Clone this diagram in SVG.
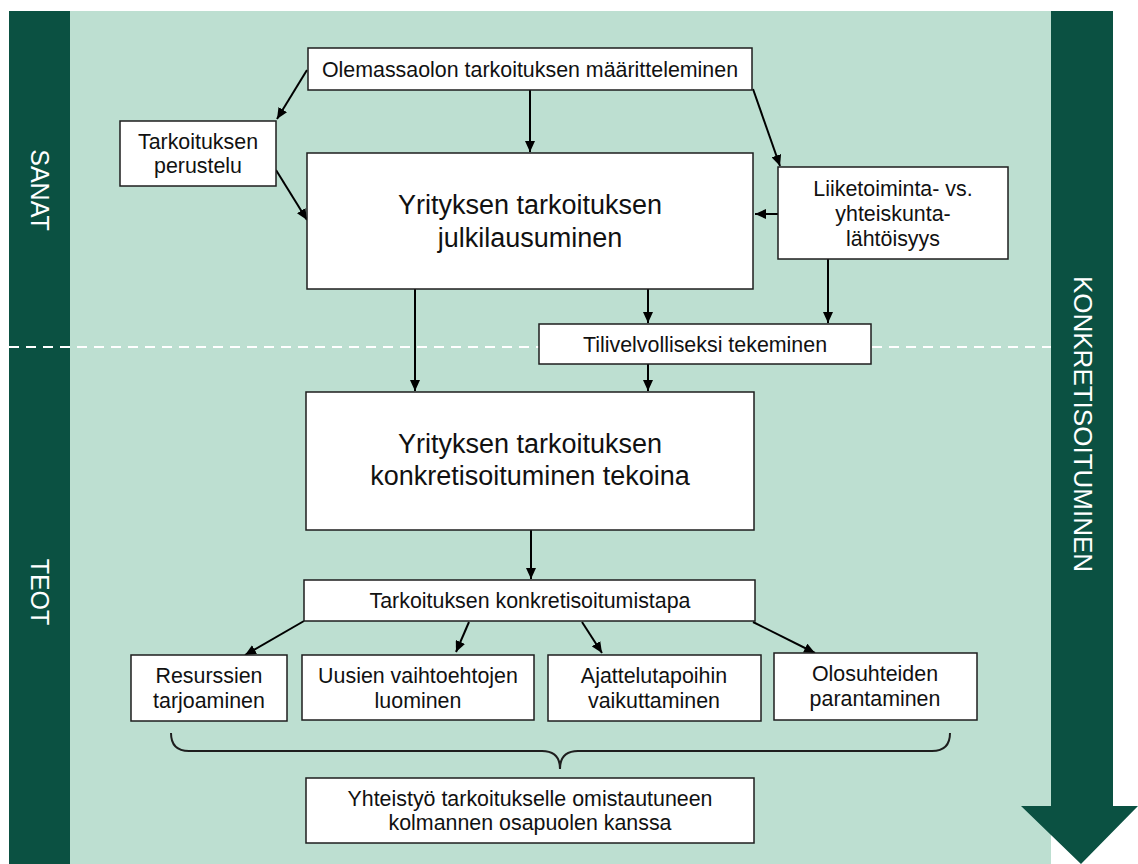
<svg xmlns="http://www.w3.org/2000/svg" width="1138" height="864" viewBox="0 0 1138 864">
<style>
.box{fill:#fff;stroke:#1e1e1e;stroke-width:1.5}
.t{font-family:"Liberation Sans",Arial,sans-serif;font-size:21.4px;fill:#111;text-anchor:middle}
.tl{font-family:"Liberation Sans",Arial,sans-serif;font-size:27px;fill:#111;text-anchor:middle}
.side{font-family:"Liberation Sans",Arial,sans-serif;font-size:25px;fill:#fff;text-anchor:middle}
.c{stroke:#000;stroke-width:2;fill:none;marker-end:url(#ah)}
</style>
<defs>
<marker id="ah" markerWidth="11" markerHeight="10" refX="11" refY="5" orient="auto" markerUnits="userSpaceOnUse"><path d="M0,0 L11,5 L0,10 z" fill="#000"/></marker>
</defs>
<g id="background">
<rect x="9" y="11" width="1042" height="853" fill="#bddfd1"/>
<rect x="9" y="11" width="61" height="853" fill="#0b5142"/>
<polygon points="1051,11 1113,11 1113,806 1138,806 1081,864 1021,806 1051,806" fill="#0b5142"/>
<line x1="9" y1="347" x2="539" y2="347" stroke="#fff" stroke-width="2" stroke-dasharray="10 7"/>
<line x1="872" y1="347" x2="1051" y2="347" stroke="#fff" stroke-width="2" stroke-dasharray="10 7"/>
<text class="side" transform="translate(31,190) rotate(90)">SANAT</text>
<text class="side" transform="translate(31,592) rotate(90)">TEOT</text>
<text class="side" style="font-size:26px" transform="translate(1074,424) rotate(90)">KONKRETISOITUMINEN</text>
</g>
<g id="connectors">
<line class="c" x1="307" y1="70" x2="277" y2="119"/>
<line class="c" x1="276" y1="170" x2="307" y2="220"/>
<line class="c" x1="530" y1="90" x2="530" y2="152"/>
<line class="c" x1="753" y1="89" x2="780" y2="166"/>
<line class="c" x1="778" y1="214" x2="755" y2="214"/>
<line class="c" x1="828" y1="259" x2="828" y2="323"/>
<line class="c" x1="648" y1="289" x2="648" y2="323"/>
<line class="c" x1="415" y1="289" x2="415" y2="391"/>
<line class="c" x1="648" y1="364" x2="648" y2="391"/>
<line class="c" x1="531" y1="530" x2="531" y2="579"/>
<line class="c" x1="304" y1="621" x2="245" y2="655"/>
<line class="c" x1="469" y1="622" x2="456" y2="652"/>
<line class="c" x1="582" y1="622" x2="602" y2="653"/>
<line class="c" x1="753" y1="622" x2="815" y2="653"/>
<path d="M171,733 Q171,751 189,751 L542,751 Q560,751 560,769 Q560,751 578,751 L932,751 Q950,751 950,733" stroke="#1e1e1e" stroke-width="2" fill="none"/>
</g>
<g id="n1"><rect class="box" x="308" y="48" width="444" height="42"/><text class="t" x="530" y="77">Olemassaolon tarkoituksen määritteleminen</text></g>
<g id="n2"><rect class="box" x="120" y="121" width="156" height="65"/><text class="t" x="198" y="149">Tarkoituksen</text><text class="t" x="198" y="173">perustelu</text></g>
<g id="n3"><rect class="box" x="307" y="153" width="446" height="136"/><text class="tl" x="530" y="214">Yrityksen tarkoituksen</text><text class="tl" x="530" y="247">julkilausuminen</text></g>
<g id="n4"><rect class="box" x="778" y="167" width="230" height="92"/><text class="t" x="893" y="196">Liiketoiminta- vs.</text><text class="t" x="893" y="221">yhteiskunta-</text><text class="t" x="893" y="246">lähtöisyys</text></g>
<g id="n5"><rect class="box" x="539" y="324" width="332" height="40"/><text class="t" x="705" y="352">Tilivelvolliseksi tekeminen</text></g>
<g id="n6"><rect class="box" x="306" y="392" width="448" height="138"/><text class="tl" x="530" y="453">Yrityksen tarkoituksen</text><text class="tl" x="530" y="485">konkretisoituminen tekoina</text></g>
<g id="n7"><rect class="box" x="304" y="580" width="451" height="41"/><text class="t" x="530" y="608">Tarkoituksen konkretisoitumistapa</text></g>
<g id="n8"><rect class="box" x="131" y="655" width="156" height="66"/><text class="t" x="209" y="683">Resurssien</text><text class="t" x="209" y="708">tarjoaminen</text></g>
<g id="n9"><rect class="box" x="302" y="655" width="232" height="65"/><text class="t" x="418" y="683">Uusien vaihtoehtojen</text><text class="t" x="418" y="708">luominen</text></g>
<g id="n10"><rect class="box" x="548" y="655" width="213" height="66"/><text class="t" x="654" y="683">Ajattelutapoihin</text><text class="t" x="654" y="708">vaikuttaminen</text></g>
<g id="n11"><rect class="box" x="774" y="653" width="203" height="67"/><text class="t" x="875" y="681">Olosuhteiden</text><text class="t" x="875" y="706">parantaminen</text></g>
<g id="n12"><rect class="box" x="306" y="778" width="448" height="65"/><text class="t" x="530" y="806">Yhteistyö tarkoitukselle omistautuneen</text><text class="t" x="530" y="830">kolmannen osapuolen kanssa</text></g>
</svg>
